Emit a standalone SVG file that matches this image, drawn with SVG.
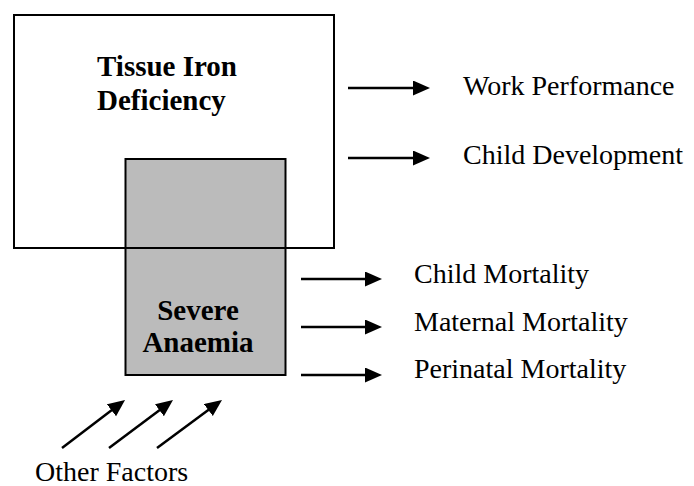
<svg xmlns="http://www.w3.org/2000/svg" width="694" height="486" viewBox="0 0 694 486">
<style>
.box{stroke:#000;stroke-width:2}
.arr{stroke:#000;stroke-width:2.5;fill:none;marker-end:url(#ah)}
</style>
<defs>
<marker id="ah" markerUnits="userSpaceOnUse" markerWidth="18" markerHeight="16" refX="5" refY="7.5" orient="auto">
<path d="M0,0 L17,7.5 L0,15 z" fill="#000"/>
</marker>
</defs>
<rect width="694" height="486" fill="#fff"/>
<g font-family="'Liberation Serif', 'Times New Roman', Times, serif" fill="#000">
<g id="tissue-iron-deficiency">
<rect class="box" x="14" y="15" width="320" height="233" fill="#fff"/>
<text x="97" y="76" font-size="29" font-weight="bold">Tissue Iron</text>
<text x="97" y="110" font-size="29" font-weight="bold">Deficiency</text>
</g>
<g id="severe-anaemia">
<rect class="box" x="125.5" y="159" width="160" height="216" fill="#bbbbbb"/>
<text x="198" y="320" font-size="29" font-weight="bold" text-anchor="middle">Severe</text>
<text x="198" y="352" font-size="29" font-weight="bold" text-anchor="middle">Anaemia</text>
</g>
<rect class="box" x="14" y="15" width="320" height="233" fill="none"/>
<g id="work-performance"><text x="463" y="95" font-size="28">Work Performance</text></g>
<g id="child-development"><text x="463" y="164" font-size="28">Child Development</text></g>
<g id="child-mortality"><text x="414" y="283" font-size="28">Child Mortality</text></g>
<g id="maternal-mortality"><text x="414" y="331" font-size="28">Maternal Mortality</text></g>
<g id="perinatal-mortality"><text x="414" y="378" font-size="28">Perinatal Mortality</text></g>
<g id="other-factors"><text x="35" y="481" font-size="28">Other Factors</text></g>
</g>
<g id="connectors">
<line class="arr" x1="348" y1="88" x2="418" y2="88"/>
<line class="arr" x1="348" y1="158" x2="418" y2="158"/>
<line class="arr" x1="301" y1="279" x2="370" y2="279"/>
<line class="arr" x1="301" y1="327" x2="370" y2="327"/>
<line class="arr" x1="301" y1="375" x2="370" y2="375"/>
<line class="arr" x1="62" y1="448" x2="115.5" y2="407.3"/>
<line class="arr" x1="109" y1="448" x2="163.4" y2="407.2"/>
<line class="arr" x1="157" y1="448" x2="212.35" y2="407.1"/>
</g>
</svg>
